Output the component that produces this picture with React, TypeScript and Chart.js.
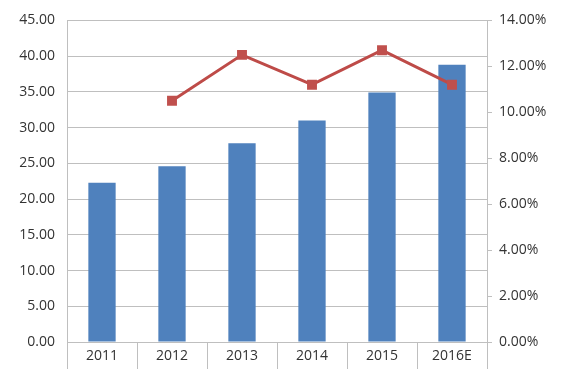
import React, { useEffect, useRef } from "react";
import { Chart, registerables } from "chart.js";

Chart.register(...registerables);

const categories = ["2011", "2012", "2013", "2014", "2015", "2016E"];
const barValues = [22.3, 24.6, 27.8, 31.0, 34.9, 38.8];
const lineValues = [null, 10.5, 12.5, 11.2, 12.7, 11.2];
const leftTicksMax = 45;
const rightTicksMax = 14;

export default function App() {
  const ref = useRef<HTMLCanvasElement>(null);
  useEffect(() => {
    document.body.style.margin = "0";
    const font = { family: "'Open Sans', 'Liberation Sans', sans-serif", size: 14 };
    const chart = new Chart(ref.current!, {
      data: {
        labels: categories,
        datasets: [
          {
            type: "line",
            data: lineValues,
            yAxisID: "y1",
            borderColor: "#BE4B48",
            backgroundColor: "#C0504D",
            borderWidth: 3,
            pointStyle: "rect",
            pointRadius: 7,
            pointBorderWidth: 0,
            spanGaps: false,
            order: 0,
          } as any,
          {
            type: "bar",
            data: barValues,
            yAxisID: "y",
            backgroundColor: "#4F81BD",
            barPercentage: 0.39,
            categoryPercentage: 1,
            order: 1,
          } as any,
        ],
      },
      options: {
        animation: false,
        responsive: false,
        layout: { padding: { top: 17, left: 0, right: 0, bottom: 0 } },
        plugins: { legend: { display: false }, tooltip: { enabled: false } },
        scales: {
          x: {
            offset: true,
            grid: { offset: true, drawOnChartArea: false, tickLength: 27, color: "#BFBFBF" },
            border: { color: "#BFBFBF" },
            ticks: { color: "#333333", font, padding: -21 },
            afterFit: (s: any) => { s.height = 34; },
          },
          y: {
            position: "left",
            min: 0,
            max: leftTicksMax,
            ticks: { stepSize: 5, color: "#333333", font, padding: 12, callback: (v: any) => Number(v).toFixed(2) },
            grid: { color: "#BFBFBF", drawTicks: false },
            border: { color: "#BFBFBF" },
            afterFit: (s: any) => { s.width = 67; },
          },
          y1: {
            position: "right",
            min: 0,
            max: rightTicksMax,
            ticks: { stepSize: 2, color: "#333333", font, padding: 7, callback: (v: any) => Number(v).toFixed(2) + "%" },
            grid: { drawOnChartArea: false, tickLength: 5, color: "#BFBFBF" },
            border: { color: "#BFBFBF" },
            afterFit: (s: any) => { s.width = 78; },
          },
        },
      },
    });
    return () => chart.destroy();
  }, []);
  return (
    <div style={{ width: 565, height: 376, background: "#fff" }}>
      <canvas ref={ref} width={565} height={376} />
    </div>
  );
}
